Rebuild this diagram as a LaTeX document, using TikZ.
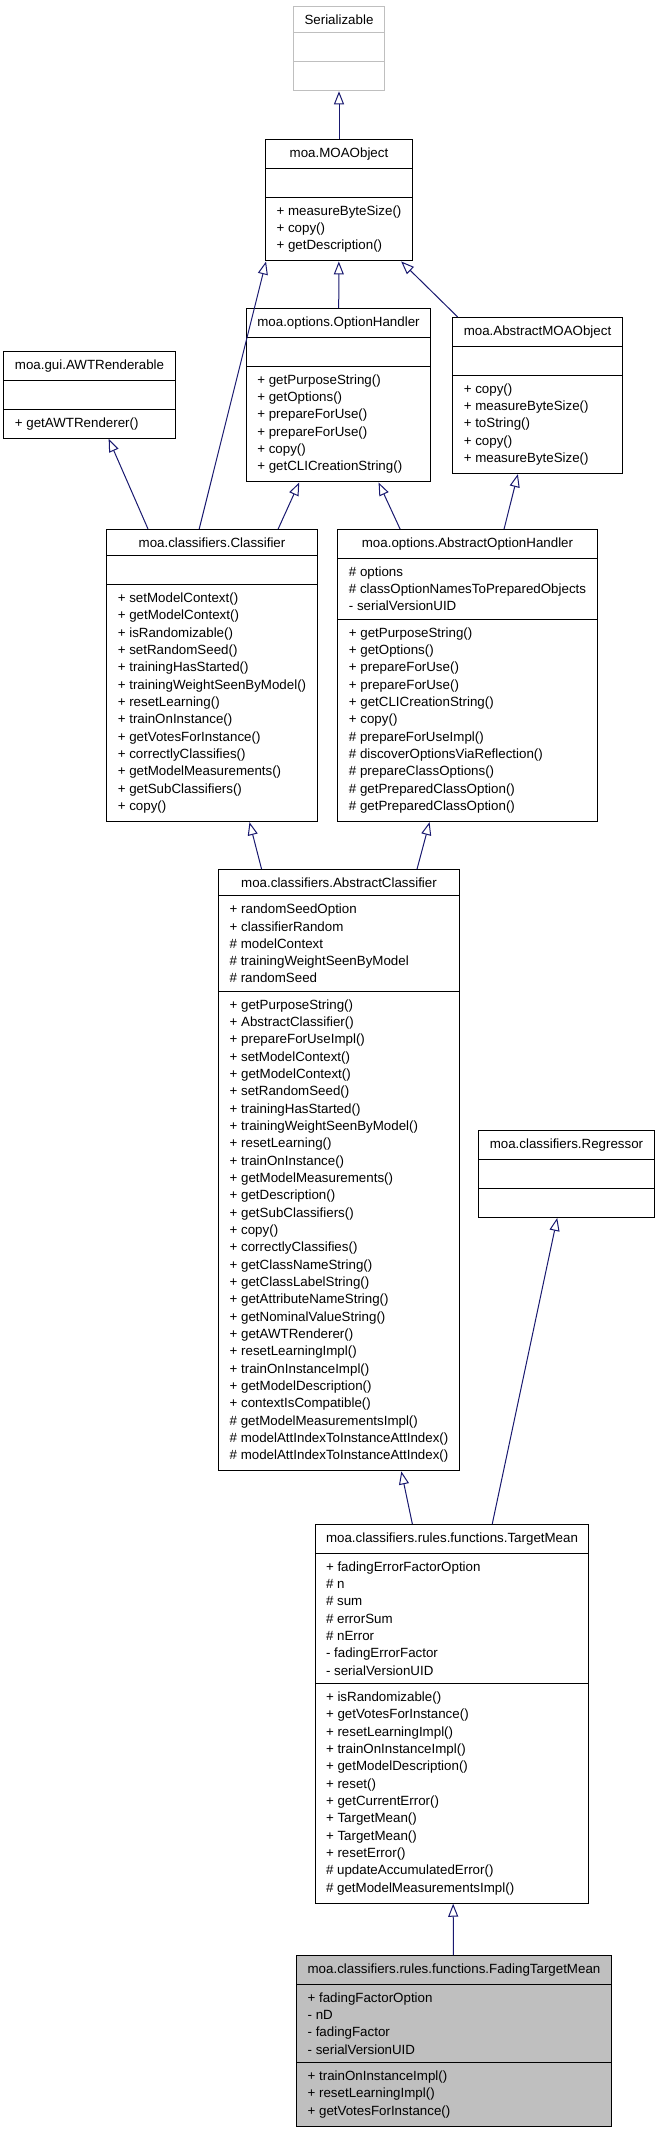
\documentclass[tikz,border=0pt]{standalone}
\usepackage{fontspec}
\setmainfont{Liberation Sans}
\usepackage{tikz}
\usetikzlibrary{bayesnet}
\usetikzlibrary{arrows.meta}
\definecolor{navy}{HTML}{191970}
\definecolor{grey75}{HTML}{BFBFBF}
\tikzstyle{umlclass} = [draw, rectangle split, rectangle split parts=3, rectangle split part align={center,left,left}, align=left, anchor=north, inner xsep=8.25pt, inner ysep=5.8pt, rectangle split empty part height=7.3pt, rectangle split empty part depth=2.1pt, line width=0.75pt, font=\fontsize{10}{13}\selectfont]
\tikzstyle{undocumented} = [umlclass, draw=grey75]
\tikzstyle{focus} = [umlclass, fill=grey75]
\tikzstyle{inherit} = [>={Triangle[open, length=9.75pt, width=7.5pt]}, draw=navy, line width=0.75pt]

\begin{document}
\begin{tikzpicture}[x=0.75pt, y=0.75pt]
    \path[use as bounding box, fill=white] (0,0) rectangle (659,-2131);
    \draw (339,-6)     node[undocumented] (ser) {Serializable};
    \draw (339,-139)   node[umlclass] (moa) {moa.MOAObject
        \nodepart{three} + measureByteSize()\\ + copy()\\ + getDescription()};
    \draw (338.5,-308) node[umlclass] (oh) {moa.options.OptionHandler
        \nodepart{three} + getPurposeString()\\ + getOptions()\\ + prepareForUse()\\ + prepareForUse()\\ + copy()\\ + getCLICreationString()};
    \draw (537.5,-317) node[umlclass] (amo) {moa.AbstractMOAObject
        \nodepart{three} + copy()\\ + measureByteSize()\\ + toString()\\ + copy()\\ + measureByteSize()};
    \draw (89.5,-351)  node[umlclass] (awt) {moa.gui.AWTRenderable
        \nodepart{three} + getAWTRenderer()};
    \draw (212,-529)   node[umlclass] (cls) {moa.classifiers.Classifier
        \nodepart{three} + setModelContext()\\ + getModelContext()\\ + isRandomizable()\\ + setRandomSeed()\\ + trainingHasStarted()\\ + trainingWeightSeenByModel()\\ + resetLearning()\\ + trainOnInstance()\\ + getVotesForInstance()\\ + correctlyClassifies()\\ + getModelMeasurements()\\ + getSubClassifiers()\\ + copy()};
    \draw (467.5,-529) node[umlclass] (aoh) {moa.options.AbstractOptionHandler
        \nodepart{two} \# options\\ \# classOptionNamesToPreparedObjects\\ - serialVersionUID
        \nodepart{three} + getPurposeString()\\ + getOptions()\\ + prepareForUse()\\ + prepareForUse()\\ + getCLICreationString()\\ + copy()\\ \# prepareForUseImpl()\\ \# discoverOptionsViaReflection()\\ \# prepareClassOptions()\\ \# getPreparedClassOption()\\ \# getPreparedClassOption()};
    \draw (339,-869)   node[umlclass] (ac) {moa.classifiers.AbstractClassifier
        \nodepart{two} + randomSeedOption\\ + classifierRandom\\ \# modelContext\\ \# trainingWeightSeenByModel\\ \# randomSeed
        \nodepart{three} + getPurposeString()\\ + AbstractClassifier()\\ + prepareForUseImpl()\\ + setModelContext()\\ + getModelContext()\\ + setRandomSeed()\\ + trainingHasStarted()\\ + trainingWeightSeenByModel()\\ + resetLearning()\\ + trainOnInstance()\\ + getModelMeasurements()\\ + getDescription()\\ + getSubClassifiers()\\ + copy()\\ + correctlyClassifies()\\ + getClassNameString()\\ + getClassLabelString()\\ + getAttributeNameString()\\ + getNominalValueString()\\ + getAWTRenderer()\\ + resetLearningImpl()\\ + trainOnInstanceImpl()\\ + getModelDescription()\\ + contextIsCompatible()\\ \# getModelMeasurementsImpl()\\ \# modelAttIndexToInstanceAttIndex()\\ \# modelAttIndexToInstanceAttIndex()};
    \draw (566.5,-1130) node[umlclass] (reg) {moa.classifiers.Regressor};
    \draw (452,-1524)  node[umlclass] (tm) {moa.classifiers.rules.functions.TargetMean
        \nodepart{two} + fadingErrorFactorOption\\ \# n\\ \# sum\\ \# errorSum\\ \# nError\\ - fadingErrorFactor\\ - serialVersionUID
        \nodepart{three} + isRandomizable()\\ + getVotesForInstance()\\ + resetLearningImpl()\\ + trainOnInstanceImpl()\\ + getModelDescription()\\ + reset()\\ + getCurrentError()\\ + TargetMean()\\ + TargetMean()\\ + resetError()\\ \# updateAccumulatedError()\\ \# getModelMeasurementsImpl()};
    \draw (454,-1955)  node[focus] (ftm) {moa.classifiers.rules.functions.FadingTargetMean
        \nodepart{two} + fadingFactorOption\\ - nD\\ - fadingFactor\\ - serialVersionUID
        \nodepart{three} + trainOnInstanceImpl()\\ + resetLearningImpl()\\ + getVotesForInstance()};
    \edge[inherit] {moa} {ser};
    \edge[inherit] {oh} {moa};
    \edge[inherit] {amo} {moa};
    \edge[inherit, out=90, in=246] {cls.95} {moa.220};
    \edge[inherit] {cls} {awt};
    \edge[inherit] {cls} {oh};
    \edge[inherit] {aoh} {oh};
    \edge[inherit] {aoh} {amo};
    \edge[inherit] {ac} {cls};
    \edge[inherit] {ac} {aoh};
    \edge[inherit] {tm} {ac};
    \edge[inherit] {tm} {reg};
    \edge[inherit] {ftm} {tm};
\end{tikzpicture}
\end{document}
